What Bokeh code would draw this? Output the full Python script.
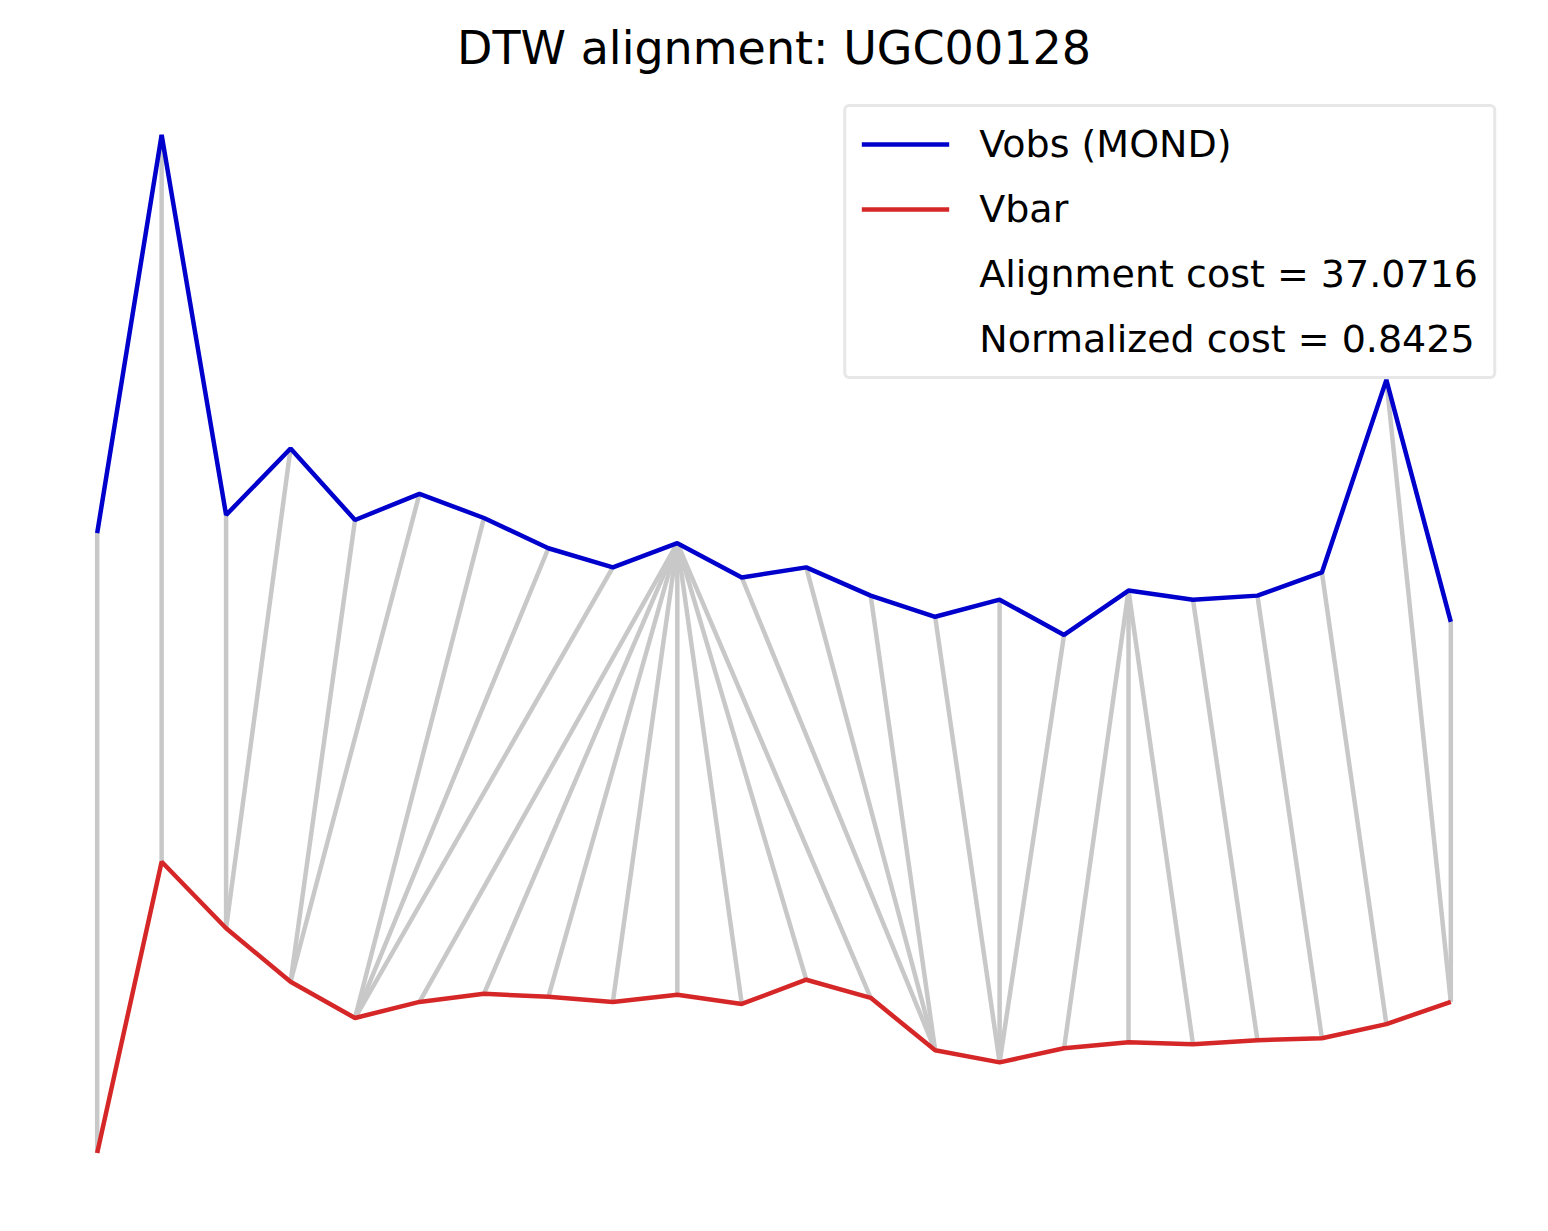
from bokeh.plotting import figure
from bokeh.models import Legend, LegendItem, Range1d
from bokeh.embed import file_html
from bokeh.resources import INLINE

# data (arbitrary units)
idx = list(range(22))
vobs = [694, 1089, 712, 778, 707, 733, 709, 679, 660, 684, 650, 660, 632, 611, 628, 593, 637, 628, 632, 655, 846, 606]
vbar = [79, 368, 302, 249, 213, 229, 237, 234, 229, 236, 227, 251, 233, 181, 169, 183, 189, 187, 191, 193, 207, 229]
# DTW path: (Vobs index, Vbar index)
path = [(0, 0), (1, 1), (2, 2), (3, 2), (4, 3), (5, 3), (6, 4), (7, 4), (8, 4),
        (9, 5), (9, 6), (9, 7), (9, 8), (9, 9), (9, 10), (9, 11), (9, 12),
        (10, 13), (11, 13), (12, 13), (13, 14), (14, 14), (15, 14),
        (16, 15), (16, 16), (16, 17), (17, 18), (18, 19), (19, 20), (20, 21), (21, 21)]
alignment_cost = "37.0716"
normalized_cost = "0.8425"

p = figure(width=1532, height=1215, output_backend="svg", toolbar_location=None,
           title="DTW alignment: UGC00128",
           min_border_left=29, min_border_right=14, min_border_top=82, min_border_bottom=14)
p.x_range = Range1d(-1.05, 22.05)
p.y_range = Range1d(31, 1141)
p.axis.visible = False
p.grid.visible = False
p.outline_line_color = None
p.title.align = "center"
p.title.text_font = "DejaVu Sans"
p.title.text_font_style = "normal"
p.title.text_font_size = "46px"
p.title.text_color = "black"
p.title.standoff = 16

xs = [[idx[i], idx[j]] for i, j in path]
ys = [[vobs[i], vbar[j]] for i, j in path]
p.multi_line(xs, ys, line_color="#c8c8c8", line_width=4.5)
r1 = p.line(idx, vobs, line_color="#0000cc", line_width=4.5)
r2 = p.line(idx, vbar, line_color="#d62728", line_width=4.5)
r3 = p.line([0], [0], line_alpha=0)
r4 = p.line([0], [0], line_alpha=0)

legend = Legend(items=[
    LegendItem(label="Vobs (MOND)", renderers=[r1]),
    LegendItem(label="Vbar", renderers=[r2]),
    LegendItem(label="Alignment cost = " + alignment_cost, renderers=[r3]),
    LegendItem(label="Normalized cost = " + normalized_cost, renderers=[r4]),
], location="top_right")
legend.label_text_font = "DejaVu Sans"
legend.label_text_font_size = "38px"
legend.label_text_color = "black"
legend.glyph_width = 88
legend.glyph_height = 42
legend.label_height = 42
legend.spacing = 21
legend.padding = 15
legend.margin = 22
legend.label_standoff = 30
legend.border_line_color = "#d0d0d0"
legend.border_line_width = 3
legend.border_radius = 6
p.add_layout(legend)

open("out.html", "w").write(file_html(p, INLINE))
